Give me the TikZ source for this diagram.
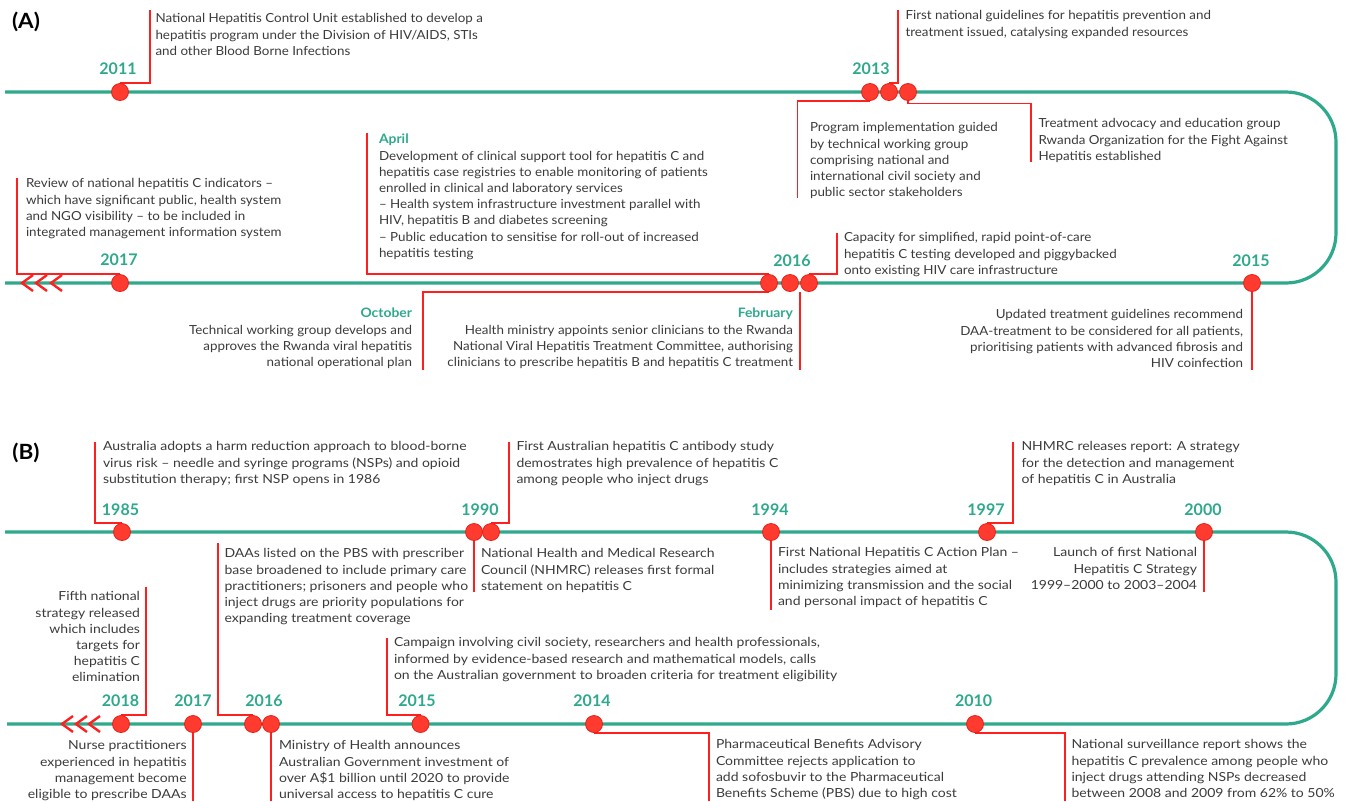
\documentclass[tikz,border=0pt]{standalone}
\usepackage{fontspec}
\setmainfont{Lato}
\newfontfamily\fontA[FakeStretch=1.07]{Lato}
\newfontfamily\fontB[FakeStretch=1.12]{Lato}
\usetikzlibrary{backgrounds}
\definecolor{tealc}{HTML}{2EA98C}
\definecolor{redl}{HTML}{FF1F1F}
\definecolor{dotfill}{HTML}{FF3B30}
\definecolor{dotedge}{HTML}{E3221A}
\definecolor{txtc}{HTML}{3B3B3B}
\newcommand{\txtfontA}{\fontA\fontsize{12.5}{16.2}\selectfont}
\newcommand{\txtfontB}{\fontB\fontsize{12.5}{16.2}\selectfont}
\newcommand{\yrfont}{\fontsize{16}{16}\selectfont\bfseries}
\newcommand{\hdr}[1]{{\fontsize{13}{16.2}\selectfont\bfseries\color{tealc}#1}}
\tikzset{
  tl/.style={draw=tealc, line width=3.2pt, rounded corners=50pt},
  conn/.style={draw=redl, line width=1.8pt},
  chev/.style={draw=redl, line width=2.4pt},
  dot/.style={circle, fill=dotfill, draw=dotedge, line width=0.8pt, minimum size=17pt, inner sep=0pt},
  yr/.style={font=\yrfont, text=tealc, inner sep=0pt},
  txt/.style={font=\txtfontA, text=txtc, inner sep=0pt, outer sep=0pt, align=left, anchor=north west},
  txtr/.style={txt, align=right, anchor=north east},
  txtb/.style={txt, font=\txtfontB},
  txtbr/.style={txtr, font=\txtfontB},
  panel/.style={font=\fontA\fontsize{21}{21}\selectfont\bfseries, text=black, inner sep=0pt}
}
\begin{document}
\begin{tikzpicture}[x=1pt,y=-1pt]
\useasboundingbox (0,0) rectangle (1348,801);

% ---------------- Panel A ----------------
\node[panel] (pA) at (26,22) {(A)};

\node[dot] (d2011) at (120,92) {};
\node[dot] (d13a) at (870,92) {};
\node[dot] (d13b) at (889,92) {};
\node[dot] (d13c) at (908,92) {};
\node[dot] (dA17) at (120,283) {};
\node[dot] (d16a) at (769,283) {};
\node[dot] (d16b) at (790,283) {};
\node[dot] (d16c) at (809,283) {};
\node[dot] (dA15) at (1252,283) {};

\node[yr] (y2011) at (118,69) {2011};
\node[yr] (y2013) at (871,69) {2013};
\node[yr] (yA17) at (119,260) {2017};
\node[yr] (yA16) at (792,261) {2016};
\node[yr] (yA15) at (1251,261) {2015};

\coordinate (c2011) at (150,10);
\coordinate (c13b) at (898,10);
\coordinate (c13a) at (797.5,198);
\coordinate (c13c) at (1031,162);
\coordinate (cA17) at (17,178);
\coordinate (cApr) at (367,132.5);
\coordinate (cOct) at (423,370);
\coordinate (cFeb) at (800,370);
\coordinate (cCap) at (837,233);
\coordinate (cA15) at (1252,370);

\node[txt] (t2011) at (155.5,11.5) {\strut National Hepatitis Control Unit established to develop a\\hepatitis program under the Division of HIV/AIDS, STIs\\and other Blood Borne Infections};
\node[txt] (t13b) at (905.5,8.5) {\strut First national guidelines for hepatitis prevention and\\treatment issued, catalysing expanded resources};
\node[txt] (t13a) at (810,120.5) {\strut Program implementation guided\\by technical working group\\comprising national and\\international civil society and\\public sector stakeholders};
\node[txt] (t13c) at (1038.5,116.5) {\strut Treatment advocacy and education group\\Rwanda Organization for the Fight Against\\Hepatitis established};
\node[txt] (tA17) at (26,176.5) {\strut Review of national hepatitis C indicators –\\which have significant public, health system\\and NGO visibility – to be included in\\integrated management information system};
\node[txt] (tApr) at (379,132.5) {\strut\hdr{April}\\Development of clinical support tool for hepatitis C and\\hepatitis case registries to enable monitoring of patients\\enrolled in clinical and laboratory services\\– Health system infrastructure investment parallel with\\HIV, hepatitis B and diabetes screening\\– Public education to sensitise for roll-out of increased\\hepatitis testing};
\node[txtr] (tOct) at (412,306.5) {\strut\hdr{October}\\Technical working group develops and\\approves the Rwanda viral hepatitis\\national operational plan};
\node[txtr] (tFeb) at (793,306.5) {\strut\hdr{February}\\Health ministry appoints senior clinicians to the Rwanda\\National Viral Hepatitis Treatment Committee, authorising\\clinicians to prescribe hepatitis B and hepatitis C treatment};
\node[txt] (tCap) at (844,230.5) {\strut Capacity for simplified, rapid point-of-care\\hepatitis C testing developed and piggybacked\\onto existing HIV care infrastructure};
\node[txtr] (tA15) at (1243,307.5) {\strut Updated treatment guidelines recommend\\DAA-treatment to be considered for all patients,\\prioritising patients with advanced fibrosis and\\HIV coinfection};

% ---------------- Panel B ----------------
\node[panel] (pB) at (26,453) {(B)};

\node[dot] (d85) at (122,532) {};
\node[dot] (d90a) at (474,532) {};
\node[dot] (d90b) at (491,532) {};
\node[dot] (d94) at (771,532) {};
\node[dot] (d97) at (987,532) {};
\node[dot] (d00) at (1204,532) {};
\node[dot] (d18) at (121,724) {};
\node[dot] (dB17) at (193,724) {};
\node[dot] (dB16a) at (253,724) {};
\node[dot] (dB16b) at (271,724) {};
\node[dot] (dB15) at (420.5,724) {};
\node[dot] (d14) at (594,724) {};
\node[dot] (d10) at (975,724) {};

\node[yr] (y85) at (120.5,510) {1985};
\node[yr] (y90) at (480,510) {1990};
\node[yr] (y94) at (770,510) {1994};
\node[yr] (y97) at (986,510) {1997};
\node[yr] (y00) at (1203,510) {2000};
\node[yr] (y18) at (120.5,701) {2018};
\node[yr] (yB17) at (193,701) {2017};
\node[yr] (yB16) at (264,701) {2016};
\node[yr] (yB15) at (417,701) {2015};
\node[yr] (y14) at (592,701) {2014};
\node[yr] (y10) at (973.6,701) {2010};

\coordinate (c85) at (95,442);
\coordinate (c90b) at (509,442);
\coordinate (c90a) at (474,592);
\coordinate (c94) at (771,610);
\coordinate (c97) at (1013,442);
\coordinate (c00) at (1204,592);
\coordinate (c18) at (146,587);
\coordinate (cB17) at (193,801);
\coordinate (cB16a) at (218,543);
\coordinate (cB16b) at (271,801);
\coordinate (cB15) at (386.6,638);
\coordinate (c14) at (709,801);
\coordinate (c10) at (1065,801);

\node[txtb] (t85) at (103,439.5) {\strut Australia adopts a harm reduction approach to blood-borne\\virus risk – needle and syringe programs (NSPs) and opioid\\substitution therapy; first NSP opens in 1986};
\node[txtb] (t90b) at (516.5,439.5) {\strut First Australian hepatitis C antibody study\\demostrates high prevalence of hepatitis C\\among people who inject drugs};
\node[txtb] (t90a) at (481,546.5) {\strut National Health and Medical Research\\Council (NHMRC) releases first formal\\statement on hepatitis C};
\node[txtb] (t94) at (778,545.5) {\strut First National Hepatitis C Action Plan –\\includes strategies aimed at\\minimizing transmission and the social\\and personal impact of hepatitis C};
\node[txtb] (t97) at (1021.5,439.5) {\strut NHMRC releases report: A strategy\\for the detection and management\\of hepatitis C in Australia};
\node[txtbr] (t00) at (1197,545.5) {\strut Launch of first National\\Hepatitis C Strategy\\1999–2000 to 2003–2004};
\node[txtbr] (t18) at (140,589.5) {\strut Fifth national\\strategy released\\which includes\\targets for\\hepatitis C\\elimination};
\node[txtbr] (tB17) at (186.6,738.5) {\strut Nurse practitioners\\experienced in hepatitis\\management become\\eligible to prescribe DAAs};
\node[txtb] (tB16a) at (224.5,546.5) {\strut DAAs listed on the PBS with prescriber\\base broadened to include primary care\\practitioners; prisoners and people who\\inject drugs are priority populations for\\expanding treatment coverage};
\node[txtb] (tB16b) at (279,738.5) {\strut Ministry of Health announces\\Australian Government investment of\\over A\$1 billion until 2020 to provide\\universal access to hepatitis C cure};
\node[txtb] (tB15) at (394,635.5) {\strut Campaign involving civil society, researchers and health professionals,\\informed by evidence-based research and mathematical models, calls\\on the Australian government to broaden criteria for treatment eligibility};
\node[txtb] (t14) at (716,737.5) {\strut Pharmaceutical Benefits Advisory\\Committee rejects application to\\add sofosbuvir to the Pharmaceutical\\Benefits Scheme (PBS) due to high cost};
\node[txtb] (t10) at (1071.5,737.5) {\strut National surveillance report shows the\\hepatitis C prevalence among people who\\inject drugs attending NSPs decreased\\between 2008 and 2009 from 62\% to 50\%};

\begin{pgfonlayer}{background}
  % timelines
  \draw[tl] (5,92) -- (1336,92) -- (1336,283) -- (5,283);
  \draw[tl] (5,532) -- (1336,532) -- (1336,724) -- (7,724);
  % connectors A
  \draw[conn] (d2011.north) -| (c2011);
  \draw[conn] (d13b.north) -| (c13b);
  \draw[conn] (d13a.south) -| (c13a);
  \draw[conn] (d13c.south) -- ++(0,2.5) -| (c13c);
  \draw[conn] (dA17.north) -| (cA17);
  \draw[conn] (d16a.north) -| (cApr);
  \draw[conn] (d16a.south) -| (cOct);
  \draw[conn] (cFeb |- d16b.south) -- (cFeb);
  \draw[conn] (d16c.north) -| (cCap);
  \draw[conn] (dA15.south) -- (cA15);
  % connectors B
  \draw[conn] (d85.north) -| (c85);
  \draw[conn] (d90b.north) -| (c90b);
  \draw[conn] (d90a.south) -- (c90a);
  \draw[conn] (d94.south) -- (c94);
  \draw[conn] (d97.north) -| (c97);
  \draw[conn] (d00.south) -- (c00);
  \draw[conn] (d18.north) -| (c18);
  \draw[conn] (dB17.south) -- (cB17);
  \draw[conn] (dB16a.north) -| (cB16a);
  \draw[conn] (dB16b.south) -- (cB16b);
  \draw[conn] (dB15.north) -| (cB15);
  \draw[conn] (d14.south) -| (c14);
  \draw[conn] (d10.south) -| (c10);
\end{pgfonlayer}

% chevrons
\foreach \tx in {22,36,51} {\draw[chev] (\tx+11,275) -- (\tx,283) -- (\tx+11,291);}
\foreach \tx in {62,76,89} {\draw[chev] (\tx+11,716) -- (\tx,724) -- (\tx+11,732);}
\end{tikzpicture}
\end{document}
